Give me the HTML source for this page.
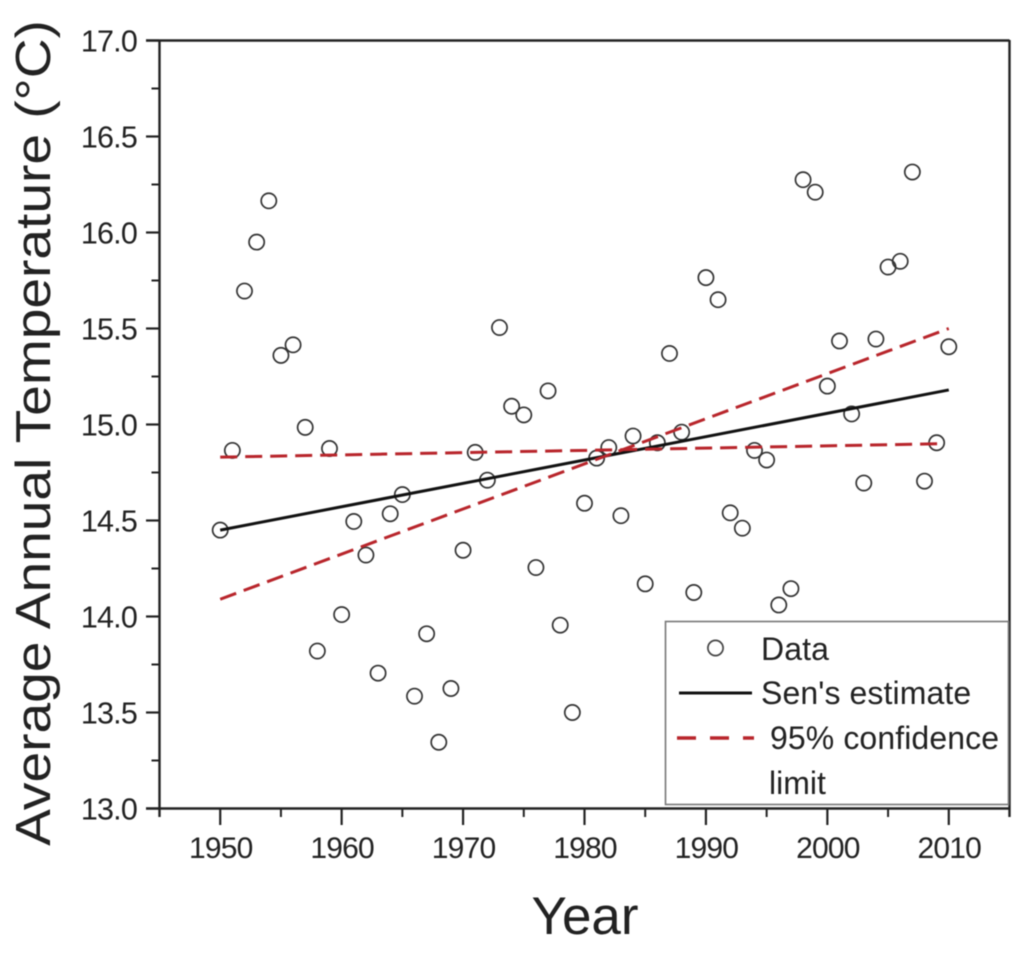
<!DOCTYPE html>
<html>
<head>
<meta charset="utf-8">
<title>Average Annual Temperature</title>
<style>
html,body{margin:0;padding:0;background:#fff;}
svg{display:block;}
text{font-family:"Liberation Sans",sans-serif;fill:#222;}
</style>
</head>
<body>
<svg id="chart" width="1024" height="953" viewBox="0 0 1024 953" xmlns="http://www.w3.org/2000/svg" style="filter:blur(0.5px)"></svg>
<script>
const years = [1950,1951,1952,1953,1954,1955,1956,1957,1958,1959,1960,1961,1962,1963,1964,1965,1966,1967,1968,1969,1970,1971,1972,1973,1974,1975,1976,1977,1978,1979,1980,1981,1982,1983,1984,1985,1986,1987,1988,1989,1990,1991,1992,1993,1994,1995,1996,1997,1998,1999,2000,2001,2002,2003,2004,2005,2006,2007,2008,2009,2010];
const temperatures = [14.45,14.865,15.695,15.95,16.165,15.36,15.415,14.985,13.82,14.875,14.01,14.495,14.32,13.705,14.535,14.635,13.585,13.91,13.345,13.625,14.345,14.855,14.71,15.505,15.095,15.05,14.255,15.175,13.955,13.5,14.59,14.825,14.88,14.525,14.94,14.17,14.905,15.37,14.96,14.125,15.765,15.65,14.54,14.46,14.865,14.815,14.06,14.145,16.275,16.21,15.2,15.435,15.055,14.695,15.445,15.82,15.85,16.315,14.705,14.905,15.405];
const lineYears = [1950,2010];
const senEstimate = [14.45,15.18];
const flatLimitYears = [1950,2009.5];
const flatLimit = [14.83,14.90];
const steepLimit = [14.09,15.50];
const xTicks = [1950,1960,1970,1980,1990,2000,2010];
const xMinorTicks = [1945,1955,1965,1975,1985,1995,2005,2015];
const yTicks = ["13.0","13.5","14.0","14.5","15.0","15.5","16.0","16.5","17.0"];
const yMinorTicks = [13.25,13.75,14.25,14.75,15.25,15.75,16.25,16.75];
const legendLabels = ["Data","Sen's estimate","95% confidence","limit"];
const xTitle = "Year";
const yTitle = "Average Annual Temperature (\u00B0C)";

const svg = document.getElementById('chart');
const NS = 'http://www.w3.org/2000/svg';
function xScale(v){ return 159.5 + (v - 1945) * (1009.5 - 159.5) / 70; }
function yScale(v){ return 808.5 - (v - 13) * (808.5 - 40.5) / 4; }
function make(tag, attrs, text){
  const el = document.createElementNS(NS, tag);
  for (const k in attrs) el.setAttribute(k, attrs[k]);
  if (text !== undefined) el.textContent = text;
  svg.appendChild(el);
  return el;
}
let el;
// plot frame
el = make('line',{x1:146,y1:40.5,x2:1009.5,y2:40.5,stroke:'#222','stroke-width':2.4});


el = make('line',{x1:146,y1:808.5,x2:1009.5,y2:808.5,stroke:'#222','stroke-width':2.6});


el = make('line',{x1:159.5,y1:40,x2:159.5,y2:817,stroke:'#222','stroke-width':2.4});


el = make('line',{x1:1009.5,y1:40,x2:1009.5,y2:817,stroke:'#222','stroke-width':2.4});



// y ticks
yTicks.forEach(function(t){
  const y = yScale(parseFloat(t));
  el = make('line',{x1:146,y1:y,x2:159,y2:y,stroke:'#222','stroke-width':2.2});
  
  
  el = make('text',{x:137,y:y+11,'text-anchor':'end','font-size':30.5,'letter-spacing':-0.8},t);
  
  
});
yMinorTicks.forEach(function(t){
  const y = yScale(t);
  el = make('line',{x1:151.5,y1:y,x2:159,y2:y,stroke:'#222','stroke-width':2});
  
  
});
// x ticks
xTicks.forEach(function(t){
  const x = xScale(t);
  el = make('line',{x1:x,y1:808,x2:x,y2:825,stroke:'#222','stroke-width':2.2});
  
  
  el = make('text',{x:x+0.5,y:858,'text-anchor':'middle','font-size':30,'letter-spacing':-0.8},String(t));
  
  
});
xMinorTicks.forEach(function(t){
  const x = xScale(t);
  el = make('line',{x1:x,y1:808,x2:x,y2:817,stroke:'#222','stroke-width':2});
  
  
});

// axis titles
el = make('text',{x:585,y:934,'text-anchor':'middle','font-size':53},xTitle);


el = make('text',{x:0,y:0,'text-anchor':'middle','font-size':49,transform:'translate(50,433) rotate(-90) scale(1.125,1)'},yTitle);



// data points
years.forEach(function(yr,i){
  el = make('circle',{cx:xScale(yr),cy:yScale(temperatures[i]),r:7.6,fill:'none',stroke:'#333','stroke-width':1.7});
  
  
});

// trend lines
el = make('line',{x1:xScale(lineYears[0]),y1:yScale(senEstimate[0]),x2:xScale(lineYears[1]),y2:yScale(senEstimate[1]),stroke:'#111','stroke-width':3});


el = make('line',{x1:xScale(flatLimitYears[0]),y1:yScale(flatLimit[0]),x2:xScale(flatLimitYears[1]),y2:yScale(flatLimit[1]),stroke:'#b8252b','stroke-width':3,'stroke-dasharray':'17 8'});


el = make('line',{x1:xScale(lineYears[0]),y1:yScale(steepLimit[0]),x2:xScale(lineYears[1]),y2:yScale(steepLimit[1]),stroke:'#b8252b','stroke-width':3,'stroke-dasharray':'17 8'});



// legend
el = make('rect',{x:665.5,y:621.5,width:343,height:183,fill:'#fff',stroke:'#777','stroke-width':1.6});


el = make('circle',{cx:715.5,cy:648,r:7.6,fill:'none',stroke:'#444','stroke-width':1.7});


el = make('line',{x1:679,y1:693,x2:752,y2:693,stroke:'#111','stroke-width':3});


el = make('line',{x1:677,y1:738,x2:754,y2:738,stroke:'#b8252b','stroke-width':3.4,'stroke-dasharray':'19 14'});


el = make('text',{x:761,y:660,'font-size':32,'letter-spacing':0.1},legendLabels[0]);


el = make('text',{x:761,y:704,'font-size':32,'letter-spacing':0.1},legendLabels[1]);


el = make('text',{x:770,y:749,'font-size':32,'letter-spacing':0.1},legendLabels[2]);


el = make('text',{x:769,y:794,'font-size':32,'letter-spacing':0},legendLabels[3]);


</script>
</body>
</html>
